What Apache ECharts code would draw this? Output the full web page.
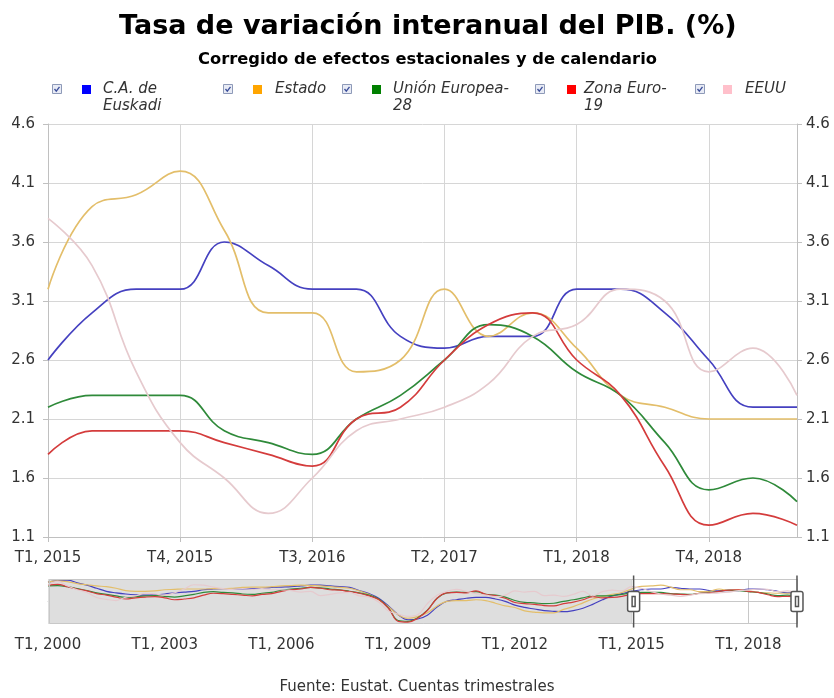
<!DOCTYPE html>
<html><head><meta charset="utf-8">
<script src="https://cdn.jsdelivr.net/npm/echarts@6/dist/echarts.min.js"></script>
<style>html,body{margin:0;padding:0;background:#fff}#c{width:834px;height:698px}</style>
</head><body><div id="c"></div>
<script>
// Quarter categories T1, 2000 ... T2, 2019
const categories = [];
for (let y = 2000; y <= 2019; y++) {
  for (let q = 1; q <= 4; q++) {
    if (y === 2019 && q > 2) break;
    categories.push('T' + q + ', ' + y);
  }
}
const seriesNames = ['C.A. de Euskadi', 'Estado', 'Unión Europea-28', 'Zona Euro-19', 'EEUU'];
const legendLabels = ['C.A. de\nEuskadi', 'Estado', 'Unión Europea-\n28', 'Zona Euro-\n19', 'EEUU'];
const legendColors = ['#0000ff', '#ffa500', '#008000', '#ff0000', '#ffc0cb'];
const lineColors = ['#4541c0', '#e3be6a', '#2f8a3a', '#d43c3c', '#e6cace'];

const euskadi = [
  5.0, 5.4, 5.5, 4.8, 4.2, 3.4, 2.6, 2.2, 1.9, 1.7, 1.6, 1.7, 1.9, 2.2, 2.4, 2.6,
  3.0, 3.2, 3.3, 3.2, 3.2, 3.3, 3.4, 3.6, 3.7, 3.8, 4.0, 4.2, 4.2, 4.0, 3.8, 3.6,
  2.8, 2.0, 0.8, -1.2, -3.5, -4.8, -4.6, -3.6, -1.5, 0.0, 0.4, 0.8, 1.0, 1.0, 0.6, 0.0,
  -1.0, -1.6, -2.0, -2.4, -2.6, -2.7, -2.4, -1.8, -0.8, 0.4, 1.4, 2.0,
  2.6, 3.0, 3.2, 3.2, 3.6, 3.4, 3.2, 3.2, 2.8, 2.7, 2.8, 2.8, 3.2, 3.2, 3.0, 2.6, 2.2, 2.2
];
const estado = [
  5.0, 5.3, 5.1, 4.6, 4.3, 4.0, 3.8, 3.4, 2.8, 2.6, 2.6, 2.7, 3.0, 3.1, 3.2, 3.2,
  3.2, 3.3, 3.3, 3.4, 3.6, 3.7, 3.7, 3.8, 4.0, 4.1, 4.2, 4.1, 4.0, 3.8, 3.6, 3.4,
  2.7, 1.8, 0.4, -1.4, -3.5, -4.4, -4.0, -3.0, -1.2, 0.0, 0.2, 0.2, 0.4, 0.2, -0.5, -1.2,
  -1.6, -2.5, -2.8, -3.0, -3.0, -2.1, -1.4, -0.4, 0.6, 1.3, 1.8, 2.3,
  3.2, 3.9, 4.0, 4.2, 3.7, 3.0, 3.0, 2.5, 2.6, 3.2, 2.8, 3.0, 2.7, 2.3, 2.2, 2.1, 2.1, 2.1
];
const ue28 = [
  4.0, 4.1, 3.8, 3.3, 2.8, 2.2, 1.8, 1.4, 1.0, 1.2, 1.4, 1.5, 1.3, 1.1, 1.4, 1.8,
  2.3, 2.5, 2.3, 2.2, 1.9, 1.8, 2.1, 2.3, 2.9, 3.2, 3.4, 3.6, 3.5, 3.2, 3.0, 2.6,
  2.2, 1.6, 0.6, -1.7, -5.0, -5.2, -4.3, -2.3, 0.8, 2.2, 2.4, 2.3, 2.5, 1.8, 1.6, 1.1,
  0.2, -0.3, -0.4, -0.6, -0.5, 0.0, 0.4, 0.9, 1.4, 1.4, 1.5, 1.8,
  2.2, 2.3, 2.3, 2.3, 2.0, 1.9, 1.8, 2.1, 2.3, 2.6, 2.9, 2.8, 2.5, 2.3, 1.9, 1.5, 1.6, 1.4
];
const zonaEuro = [
  4.2, 4.4, 3.8, 3.2, 2.7, 2.0, 1.6, 1.1, 0.6, 0.9, 1.1, 1.2, 0.9, 0.4, 0.6, 0.9,
  1.6, 2.1, 2.0, 1.8, 1.6, 1.4, 1.8, 2.0, 2.6, 3.0, 3.2, 3.6, 3.4, 3.0, 2.9, 2.5,
  2.1, 1.4, 0.5, -1.8, -5.2, -5.4, -4.4, -2.4, 0.8, 2.2, 2.3, 2.2, 2.7, 1.8, 1.5, 0.8,
  -0.3, -0.6, -0.8, -1.1, -1.2, -0.6, -0.2, 0.4, 1.2, 0.9, 1.0, 1.3,
  1.8, 2.0, 2.0, 2.0, 1.9, 1.8, 1.7, 2.1, 2.2, 2.6, 2.9, 3.0, 2.6, 2.3, 1.7, 1.2, 1.3, 1.2
];
const eeuu = [
  4.2, 5.2, 4.0, 3.0, 2.3, 1.0, 0.5, 0.2, 1.1, 1.4, 2.1, 1.9, 1.6, 2.2, 3.2, 4.3,
  4.2, 3.7, 3.3, 3.1, 3.3, 3.1, 3.3, 3.0, 3.0, 2.8, 2.4, 2.6, 1.5, 1.8, 2.2, 2.3,
  1.4, 1.1, -0.2, -2.5, -3.3, -3.9, -3.5, -0.6, 1.6, 2.6, 3.1, 2.6, 2.0, 1.6, 1.2, 1.6,
  2.7, 2.4, 2.6, 1.5, 1.6, 1.3, 1.8, 2.6, 1.4, 2.5, 2.9, 2.7,
  3.8, 3.4, 2.5, 1.9, 1.6, 1.3, 1.6, 2.0, 2.1, 2.2, 2.4, 2.8, 2.9, 3.2, 3.1, 2.5, 2.7, 2.3
];
const seriesData = [euskadi, estado, ue28, zonaEuro, eeuu];

const yMin = 1.1, yMax = 4.6, yStep = 0.5;
const windowStart = categories.indexOf('T1, 2015');
const windowEnd = categories.length - 1;

const FONT = 'DejaVu Sans';
const chart = echarts.init(document.getElementById('c'), null, { renderer: 'canvas' });

const legendLeft = [82, 253, 372, 567, 723];
const legendTextPad = [7, 8, 7, 3, 8];
const checkboxX = [52, 223, 342, 535, 695];

const legends = seriesNames.map((name, k) => {
  const multi = legendLabels[k].indexOf('\n') >= 0;
  return {
    data: [{ name: name, itemStyle: { color: legendColors[k] } }],
    left: legendLeft[k], top: multi ? 64 : 81, padding: 0,
    icon: 'rect', itemWidth: 9, itemHeight: 9,
    formatter: () => (multi ? ' \n' : '') + legendLabels[k],
    selectedMode: false,
    textStyle: { fontFamily: FONT, fontSize: 15, fontStyle: 'italic', color: '#333',
      lineHeight: 17, padding: [0, 0, 0, legendTextPad[k]] }
  };
});

const mainSeries = seriesData.map((d, k) => ({
  name: seriesNames[k], type: 'line', xAxisIndex: 0, yAxisIndex: 0, data: d,
  smooth: 0.45, symbol: 'none', lineStyle: { color: lineColors[k], width: 1.7 },
  itemStyle: { color: lineColors[k] }, z: 3
}));
const navSeries = seriesData.map((d, k) => ({
  name: seriesNames[k], type: 'line', xAxisIndex: 1, yAxisIndex: 2, data: d,
  smooth: 0.4, symbol: 'none', lineStyle: { color: lineColors[k], width: 1.2 },
  itemStyle: { color: lineColors[k] }, z: 3,
  markArea: k === 0 ? { silent: true, itemStyle: { color: '#dedede' },
    data: [[{ xAxis: categories[0] }, { xAxis: categories[windowStart] }]] } : undefined
}));

const option = {
  animation: false,
  backgroundColor: '#fff',
  title: [
    { text: 'Tasa de variación interanual del PIB. (%)', left: 119, top: 13, padding: 0,
      textStyle: { fontFamily: FONT, fontWeight: 'bold', fontSize: 27, color: '#000' } },
    { text: 'Corregido de efectos estacionales y de calendario', left: 198, top: 52, padding: 0,
      textStyle: { fontFamily: FONT, fontWeight: 'bold', fontSize: 16.3, color: '#000' } },
    { text: 'Fuente: Eustat. Cuentas trimestrales', left: 'center', top: 680, padding: 0,
      textStyle: { fontFamily: FONT, fontWeight: 'normal', fontSize: 15, color: '#333' } }
  ],
  legend: legends,
  graphic: checkboxX.map(x => ({
    type: 'group', left: x, top: 84, silent: true,
    children: [
      { type: 'rect', shape: { x: 0.5, y: 0.5, width: 9, height: 9 },
        style: { fill: '#e8ebf5', stroke: '#8e9ab8', lineWidth: 1 } },
      { type: 'polyline', shape: { points: [[2.5, 5], [4.3, 7.2], [7.5, 2.8]] },
        style: { stroke: '#3b4e9a', lineWidth: 1.3, fill: null } }
    ]
  })),
  grid: [
    { left: 48, right: 37, top: 124, height: 413 },
    { left: 48, right: 37, top: 579, height: 45 }
  ],
  xAxis: [
    { type: 'category', gridIndex: 0, data: categories, boundaryGap: false,
      axisLine: { lineStyle: { color: '#c0c0c0' } },
      axisTick: { interval: (i) => i % 3 === 0, length: 5, lineStyle: { color: '#c0c0c0' } },
      axisLabel: { interval: (i) => i % 3 === 0, color: '#333', fontFamily: FONT, fontSize: 15, margin: 14 },
      splitLine: { show: true, interval: (i) => i % 3 === 0, lineStyle: { color: '#d6d6d6' } } },
    { type: 'category', gridIndex: 1, data: categories, boundaryGap: false,
      axisLine: { lineStyle: { color: '#c8c8c8' } },
      axisTick: { interval: (i) => i % 12 === 0, length: 6, lineStyle: { color: '#c8c8c8' } },
      axisLabel: { interval: (i) => i % 12 === 0, color: '#333', fontFamily: FONT, fontSize: 15, margin: 14 },
      splitLine: { show: true, interval: (i) => i % 12 === 0, lineStyle: { color: '#c8c8c8' } } }
  ],
  yAxis: [
    { type: 'value', gridIndex: 0, position: 'left', min: yMin, max: yMax, interval: yStep,
      axisLine: { show: true, lineStyle: { color: '#c0c0c0' } },
      axisTick: { show: true, length: 5, lineStyle: { color: '#c0c0c0' } },
      axisLabel: { formatter: v => v.toFixed(1), color: '#333', fontFamily: FONT, fontSize: 15, margin: 13 },
      splitLine: { lineStyle: { color: '#d6d6d6' } } },
    { type: 'value', gridIndex: 0, position: 'right', min: yMin, max: yMax, interval: yStep,
      axisLine: { show: true, lineStyle: { color: '#c0c0c0' } },
      axisTick: { show: true, length: 5, lineStyle: { color: '#c0c0c0' } },
      axisLabel: { formatter: v => v.toFixed(1), color: '#333', fontFamily: FONT, fontSize: 15, margin: 9 },
      splitLine: { show: false } },
    { type: 'value', gridIndex: 1, show: false, min: -5.9, max: 5.8, splitLine: { show: false } }
  ],
  dataZoom: [
    { type: 'slider', xAxisIndex: 0, startValue: windowStart, endValue: windowEnd, filterMode: 'filter',
      left: 48, right: 37, top: 579, height: 45,
      backgroundColor: 'transparent', fillerColor: 'transparent', borderColor: '#c8c8c8',
      showDataShadow: false, showDetail: false, brushSelect: false, moveHandleSize: 0,
      moveHandleStyle: { opacity: 0 },
      handleIcon: 'path://M6,0V16M6,36V52M2,16H10A2,2,0,0,1,12,18V34A2,2,0,0,1,10,36H2A2,2,0,0,1,0,34V18A2,2,0,0,1,2,16ZM4.5,21H7.5V31H4.5Z',
      handleSize: 52,
      handleStyle: { color: '#fff', borderColor: '#555', borderWidth: 1.5 },
      emphasis: { handleStyle: { color: '#fff', borderColor: '#555' } },
      z: 6 }
  ],
  series: mainSeries.concat(navSeries)
};
chart.setOption(option);
</script>
</body></html>
